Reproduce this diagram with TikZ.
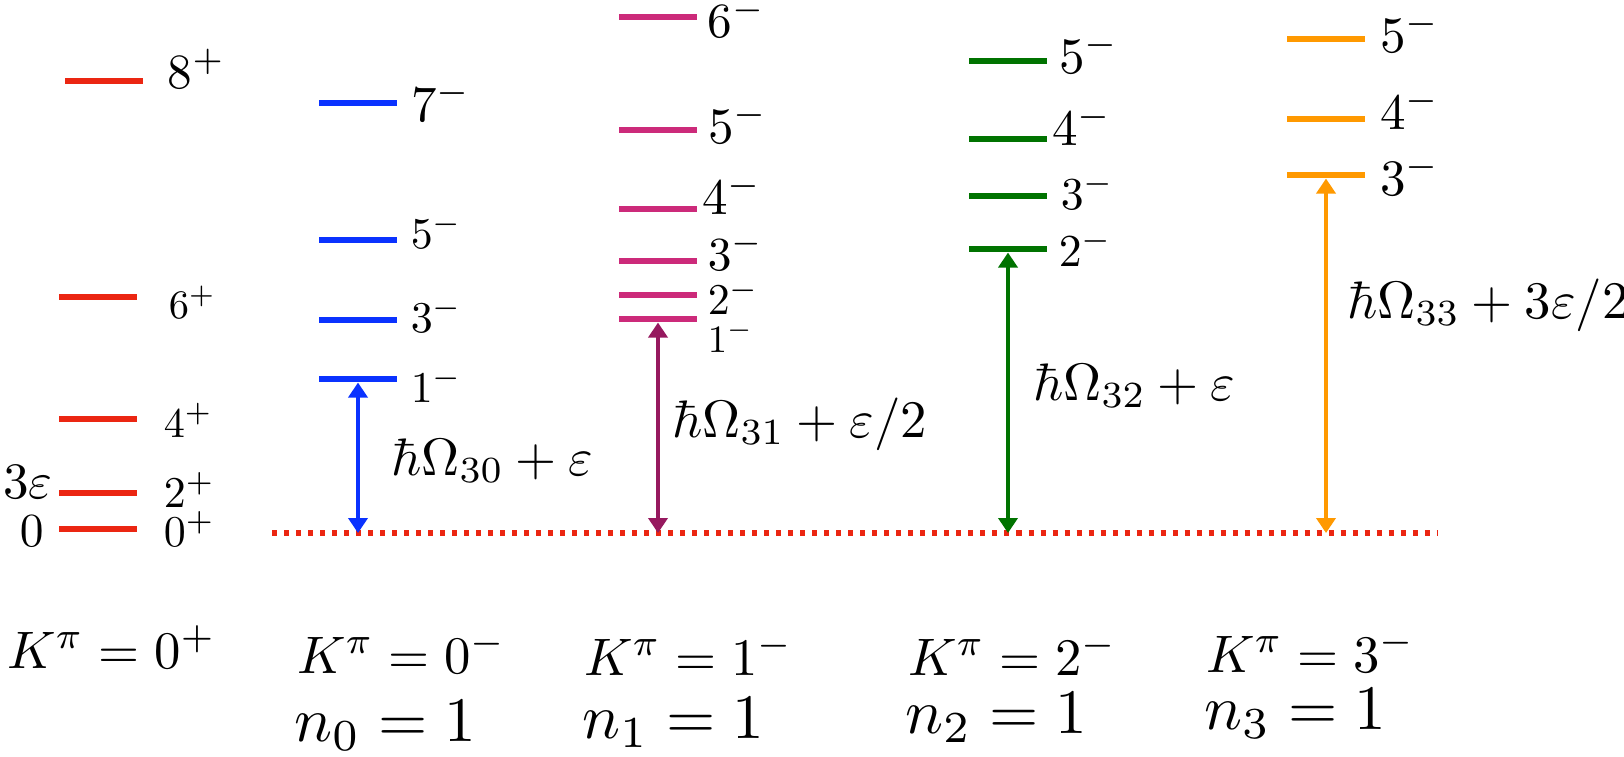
\documentclass[tikz,border=0pt]{standalone}
\usepackage{amsmath}
\usetikzlibrary{arrows.meta}
\definecolor{lvred}{RGB}{235,38,18}
\definecolor{lvblue}{RGB}{10,50,255}
\definecolor{lvmag}{RGB}{204,42,122}
\definecolor{lvplum}{RGB}{150,25,95}
\definecolor{lvgreen}{RGB}{0,115,0}
\definecolor{lvorange}{RGB}{255,153,0}

\begin{document}
\begin{tikzpicture}[x=0.01cm,y=-0.01cm,
    lev/.style={fill=#1,minimum width=0.78cm,minimum height=0.057cm,inner sep=0pt},
    lbl/.style={anchor=base west,inner sep=0pt,scale=#1/10},
    gap/.style={#1,line width=0.04cm,{Triangle[width=0.19cm,length=0.15cm]}-{Triangle[width=0.19cm,length=0.15cm]}},
    base/.style={lvred,line width=0.055cm,dash pattern=on 0.05cm off 0.07cm}]
        \useasboundingbox (0,0) rectangle (1624,756);

        % K = 0+ band
        \node[lev=lvred] (r8) at (104,81) {};
        \node[lev=lvred] (r6) at (98,297) {};
        \node[lev=lvred] (r4) at (98,419) {};
        \node[lev=lvred] (r2) at (98,493) {};
        \node[lev=lvred] (r0) at (98,529) {};
        \node[lbl=14] (lr8) at (167,88) {$8^+$};
        \node[lbl=11.5] (lr6) at (168,318) {$6^+$};
        \node[lbl=12] (lr4) at (163,437) {$4^+$};
        \node[lbl=12.5] (lr2) at (163,507) {$2^+$};
        \node[lbl=12.5] (lr0) at (163,546) {$0^+$};
        \node[lbl=14.5] (e3) at (2,498) {$3\varepsilon$};
        \node[lbl=13.5] (e0) at (19,546) {$0$};

        % baseline
        \coordinate (d0) at (272,533);
        \coordinate (d1) at (1438,533);
        \draw[base] (d0) -- (d1);
        \coordinate (a0) at (358,533);
        \coordinate (a1) at (658,533);
        \coordinate (a2) at (1008,533);
        \coordinate (a3) at (1326,533);

        % K = 0- band
        \node[lev=lvblue] (b7) at (358,103) {};
        \node[lev=lvblue] (b5) at (358,240) {};
        \node[lev=lvblue] (b3) at (358,320) {};
        \node[lev=lvblue] (b1) at (358,379) {};
        \node[lbl=14.5] (lb7) at (410,121) {$7^-$};
        \node[lbl=12.5] (lb5) at (410,248) {$5^-$};
        \node[lbl=12.5] (lb3) at (410,332) {$3^-$};
        \node[lbl=12.5] (lb1) at (410,402) {$1^-$};
        \draw[gap=lvblue] (a0) -- (b1.south);
        \node[lbl=15] (hb) at (390,475) {$\hbar\Omega_{30}+\varepsilon$};

        % K = 1- band
        \node[lev=lvmag] (m6) at (658,17) {};
        \node[lev=lvmag] (m5) at (658,130) {};
        \node[lev=lvmag] (m4) at (658,209) {};
        \node[lev=lvmag] (m3) at (658,261) {};
        \node[lev=lvmag] (m2) at (658,295) {};
        \node[lev=lvmag] (m1) at (658,319) {};
        \node[lbl=14] (lm6) at (707,37) {$6^-$};
        \node[lbl=14.5] (lm5) at (707,143) {$5^-$};
        \node[lbl=14.5] (lm4) at (701,214) {$4^-$};
        \node[lbl=13.5] (lm3) at (707,270) {$3^-$};
        \node[lbl=12.5] (lm2) at (707,314) {$2^-$};
        \node[lbl=11] (lm1) at (707,352) {$1^-$};
        \draw[gap=lvplum] (a1) -- (m1.south);
        \node[lbl=15] (hm) at (671,437) {$\hbar\Omega_{31}+\varepsilon/2$};

        % K = 2- band
        \node[lev=lvgreen] (g5) at (1008,61) {};
        \node[lev=lvgreen] (g4) at (1008,139) {};
        \node[lev=lvgreen] (g3) at (1008,196) {};
        \node[lev=lvgreen] (g2) at (1008,249) {};
        \node[lbl=14.5] (lg5) at (1058,73) {$5^-$};
        \node[lbl=14.5] (lg4) at (1051,145) {$4^-$};
        \node[lbl=13] (lg3) at (1060,209) {$3^-$};
        \node[lbl=13] (lg2) at (1058,266) {$2^-$};
        \draw[gap=lvgreen] (a2) -- (g2.south);
        \node[lbl=15] (hg) at (1032,400) {$\hbar\Omega_{32}+\varepsilon$};

        % K = 3- band
        \node[lev=lvorange] (o5) at (1326,39) {};
        \node[lev=lvorange] (o4) at (1326,119) {};
        \node[lev=lvorange] (o3) at (1326,175) {};
        \node[lbl=14.5] (lo5) at (1379,52) {$5^-$};
        \node[lbl=14.5] (lo4) at (1379,129) {$4^-$};
        \node[lbl=14.5] (lo3) at (1379,195) {$3^-$};
        \draw[gap=lvorange] (a3) -- (o3.south);
        \node[lbl=15] (ho) at (1346,318) {$\hbar\Omega_{33}+3\varepsilon/2$};

        % band labels
        \node[lbl=15] (k0p) at (6,668) {$K^\pi=0^+$};
        \node[lbl=15] (k0) at (296,673) {$K^\pi=0^-$};
        \node[lbl=15] (k1) at (583,675) {$K^\pi=1^-$};
        \node[lbl=15] (k2) at (907,675) {$K^\pi=2^-$};
        \node[lbl=15] (k3) at (1205,672) {$K^\pi=3^-$};
        \node[lbl=18] (n0) at (293,741) {$n_0=1$};
        \node[lbl=18] (n1) at (581,738) {$n_1=1$};
        \node[lbl=18] (n2) at (904,733) {$n_2=1$};
        \node[lbl=18] (n3) at (1203,729) {$n_3=1$};
\end{tikzpicture}
\end{document}
